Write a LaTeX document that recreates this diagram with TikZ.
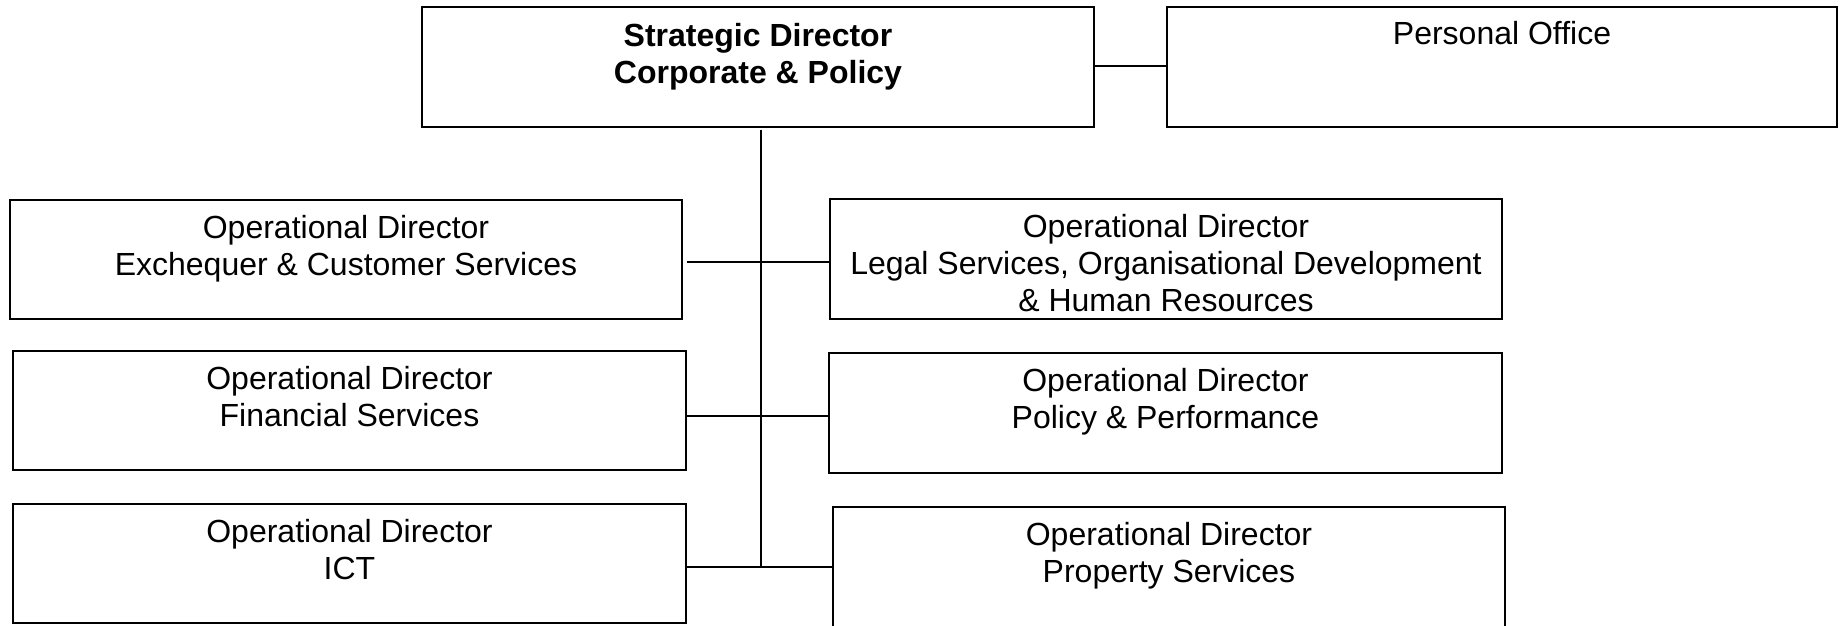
\documentclass[tikz,border=0pt]{standalone}
\usepackage{fontspec}
\setmainfont{Liberation Sans}
\begin{document}
\begin{tikzpicture}[x=1pt,y=-1pt,
  box/.style={draw=black, line width=2.2pt, rectangle, inner sep=0pt, fill=white},
  txt/.style={anchor=north, inner sep=0pt, align=center, font=\fontsize{32}{37}\selectfont},
  conn/.style={line width=2pt, draw=black}]
\useasboundingbox (0,0) rectangle (1840,626);
\clip (0,0) rectangle (1840,626);
\fill[white] (0,0) rectangle (1840,626);

% connector end points and levels
\coordinate (vtop) at (761,130);
\coordinate (vbot) at (761,568);
\coordinate (ypers) at (0,66);
\coordinate (yexc) at (0,262);
\coordinate (yfin) at (0,416);
\coordinate (yict) at (0,567);

% boxes
\node[box, minimum width=672pt, minimum height=120pt] (strat) at (758,67) {};
\node[box, minimum width=670pt, minimum height=120pt] (pers) at (1502,67) {};
\node[box, minimum width=672pt, minimum height=119pt] (exc) at (346,259.5) {};
\node[box, minimum width=672pt, minimum height=120pt] (legal) at (1166,259) {};
\node[box, minimum width=673pt, minimum height=119pt] (fin) at (349.5,410.5) {};
\node[box, minimum width=673pt, minimum height=120pt] (pol) at (1165.5,413) {};
\node[box, minimum width=673pt, minimum height=119pt] (ict) at (349.5,563.5) {};
\node[box, minimum width=672pt, minimum height=133pt] (prop) at (1169,573.5) {};

% texts
\node[txt] (stratT) at ([yshift=-17pt]strat.north) {\bfseries Strategic Director\\\bfseries Corporate \& Policy};
\node[txt] (persT) at ([yshift=-15pt]pers.north) {Personal Office};
\node[txt] (excT) at ([yshift=-16pt]exc.north) {Operational Director\\Exchequer \& Customer Services};
\node[txt] (legalT) at ([yshift=-16pt]legal.north) {Operational Director\\Legal Services, Organisational Development\\\& Human Resources};
\node[txt] (finT) at ([yshift=-16pt]fin.north) {Operational Director\\Financial Services};
\node[txt] (polT) at ([yshift=-16pt]pol.north) {Operational Director\\Policy \& Performance};
\node[txt] (ictT) at ([yshift=-16pt]ict.north) {Operational Director\\ICT};
\node[txt] (propT) at ([yshift=-16pt]prop.north) {Operational Director\\Property Services};

% connectors
\draw[conn] (strat.east |- ypers) -- (pers.west |- ypers);
\draw[conn] (vtop) -- (vbot);
\draw[conn] ([xshift=4pt]exc.east |- yexc) -- (legal.west |- yexc);
\draw[conn] (fin.east |- yfin) -- (pol.west |- yfin);
\draw[conn] (ict.east |- yict) -- (prop.west |- yict);
\end{tikzpicture}
\end{document}
